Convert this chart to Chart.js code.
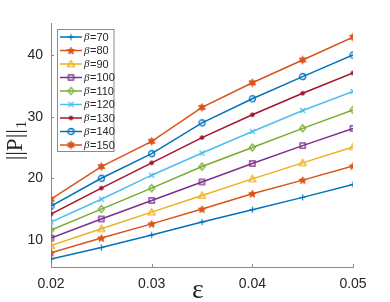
<!DOCTYPE html>
<html><head><meta charset="utf-8">
<script src="https://cdn.jsdelivr.net/npm/chart.js@4.4.1/dist/chart.umd.min.js"></script>
<style>html,body{margin:0;padding:0;background:#fff}#c{display:block}</style>
</head><body>
<div style="width:390px;height:302px"><canvas id="c" width="390" height="302"></canvas></div>
<script>
const eps = [0.02, 0.025, 0.03, 0.035, 0.04, 0.045, 0.05];
const betas = [70, 80, 90, 100, 110, 120, 130, 140, 150];
const b70  = [6.9, 8.75, 10.8, 12.9, 14.9, 16.9, 19.0];
const b80  = [7.9, 10.3, 12.6, 15.0, 17.5, 19.7, 22.0];
const b90  = [9.1, 11.8, 14.5, 17.2, 19.9, 22.5, 25.1];
const b100 = [10.3, 13.4, 16.4, 19.4, 22.4, 25.3, 28.1];
const b110 = [11.6, 15.0, 18.4, 21.9, 25.0, 28.1, 31.1];
const b120 = [12.9, 16.6, 20.5, 24.1, 27.6, 31.0, 34.1];
const b130 = [14.2, 18.4, 22.5, 26.6, 30.3, 33.8, 37.1];
const b140 = [15.5, 20.0, 24.0, 29.0, 32.9, 36.5, 40.0];
const b150 = [16.6, 21.9, 26.0, 31.5, 35.5, 39.2, 42.9];
const xTicks = [0.02, 0.03, 0.04, 0.05];
const yTicks = [10, 20, 30, 40];

const series = [b70, b80, b90, b100, b110, b120, b130, b140, b150];
const colors = ['#0072BD','#D95319','#EDB120','#7E2F8E','#77AC30','#4DBEEE','#A2142F','#0072BD','#D95319'];
const markers = ['plus','pentagram','triangle','square','diamond','x','dot','circle','hexagram'];

function starPath(ctx, cx, cy, n, ro, ri) {
  ctx.beginPath();
  for (let i = 0; i < 2 * n; i++) {
    const r = i % 2 === 0 ? ro : ri;
    const a = -Math.PI / 2 + i * Math.PI / n;
    const px = cx + r * Math.cos(a), py = cy + r * Math.sin(a);
    if (i === 0) ctx.moveTo(px, py); else ctx.lineTo(px, py);
  }
  ctx.closePath();
}
function makeMarker(type, color) {
  const s = 11, c = document.createElement('canvas');
  c.width = s; c.height = s;
  const ctx = c.getContext('2d');
  const m = s / 2;
  ctx.strokeStyle = color; ctx.fillStyle = color; ctx.lineWidth = 1;
  switch (type) {
    case 'plus':
      ctx.lineWidth = 1.2;
      ctx.beginPath(); ctx.moveTo(m - 3, m); ctx.lineTo(m + 3, m);
      ctx.moveTo(m, m - 3); ctx.lineTo(m, m + 3); ctx.stroke(); break;
    case 'pentagram':
      starPath(ctx, m, m + 0.4, 5, 3.9, 1.7); ctx.fill(); ctx.stroke(); break;
    case 'triangle':
      ctx.lineWidth = 1.3;
      ctx.beginPath(); ctx.moveTo(m, m - 3.4); ctx.lineTo(m + 3.4, m + 2.6); ctx.lineTo(m - 3.4, m + 2.6); ctx.closePath();
      ctx.stroke(); break;
    case 'square':
      ctx.lineWidth = 1.3; ctx.strokeRect(m - 2.6, m - 2.6, 5.2, 5.2); break;
    case 'diamond':
      ctx.lineWidth = 1.2;
      ctx.beginPath(); ctx.moveTo(m, m - 3.5); ctx.lineTo(m + 3, m); ctx.lineTo(m, m + 3.5); ctx.lineTo(m - 3, m); ctx.closePath();
      ctx.stroke(); break;
    case 'x':
      ctx.lineWidth = 1.1;
      ctx.beginPath(); ctx.moveTo(m - 2.5, m - 2.5); ctx.lineTo(m + 2.5, m + 2.5);
      ctx.moveTo(m + 2.5, m - 2.5); ctx.lineTo(m - 2.5, m + 2.5); ctx.stroke(); break;
    case 'dot':
      ctx.beginPath(); ctx.arc(m, m, 2.3, 0, Math.PI * 2); ctx.fill(); break;
    case 'circle':
      ctx.lineWidth = 1.3;
      ctx.beginPath(); ctx.arc(m, m, 3, 0, Math.PI * 2); ctx.stroke(); break;
    case 'hexagram':
      starPath(ctx, m, m, 6, 3.9, 2.1); ctx.fill(); ctx.stroke(); break;
  }
  return c;
}
const markerImgs = markers.map((t, i) => makeMarker(t, colors[i]));

const datasets = series.map((vals, i) => ({
  label: 'β=' + betas[i],
  data: eps.map((x, j) => ({ x: x, y: vals[j] })),
  borderColor: colors[i],
  backgroundColor: colors[i],
  borderWidth: 1.5,
  pointStyle: markerImgs[i],
  pointRadius: 4,
  tension: 0,
  order: series.length - i
}));

const axisColor = '#8a8a8a';
const tickColor = '#262626';

const decorPlugin = {
  id: 'decor',
  afterDraw(chart) {
    const ctx = chart.ctx, a = chart.chartArea;
    const xs = chart.scales.x, ys = chart.scales.y;
    ctx.save();
    ctx.strokeStyle = axisColor; ctx.lineWidth = 1;
    ctx.beginPath();
    xTicks.forEach(v => { const px = Math.round(xs.getPixelForValue(v)) + 0.5; ctx.moveTo(px, a.bottom); ctx.lineTo(px, a.bottom - 3); });
    yTicks.forEach(v => { const py = Math.round(ys.getPixelForValue(v)) + 0.5; ctx.moveTo(a.left, py); ctx.lineTo(a.left + 3, py); });
    ctx.stroke();
    ctx.translate(16, 141);
    ctx.rotate(-Math.PI / 2);
    ctx.fillStyle = tickColor;
    ctx.textBaseline = 'middle';
    ctx.textAlign = 'left';
    ctx.font = '23px "Liberation Serif", "Times New Roman", serif';
    const main = '||P||';
    const w = ctx.measureText(main).width;
    ctx.font = '15px "Liberation Serif", "Times New Roman", serif';
    const w1 = ctx.measureText('1').width;
    const start = -(w + w1) / 2;
    ctx.font = '23px "Liberation Serif", "Times New Roman", serif';
    ctx.fillText(main, start, 0);
    ctx.font = '15px "Liberation Serif", "Times New Roman", serif';
    ctx.fillText('1', start + w + 1, 6);
    ctx.restore();

    ctx.save();
    ctx.fillStyle = tickColor;
    ctx.font = '28px "Liberation Serif", "Times New Roman", serif';
    ctx.textAlign = 'center'; ctx.textBaseline = 'middle';
    ctx.fillText('ε', (a.left + a.right) / 2 - 4, 291);
    ctx.restore();

    ctx.save();
    const lx = 57.5, ly = 29.5, lw = 56.5, lh = 122;
    ctx.fillStyle = '#fff'; ctx.fillRect(lx, ly, lw, lh);
    ctx.strokeStyle = axisColor; ctx.lineWidth = 1; ctx.strokeRect(lx, ly, lw, lh);
    chart.data.datasets.forEach((ds, i) => {
      const y = 37 + i * 13.5;
      ctx.strokeStyle = ds.borderColor; ctx.lineWidth = 1.5;
      ctx.beginPath(); ctx.moveTo(60, y); ctx.lineTo(82, y); ctx.stroke();
      const img = markerImgs[i];
      ctx.drawImage(img, 71 - img.width / 2, y - img.height / 2);
      ctx.fillStyle = tickColor; ctx.textBaseline = 'middle'; ctx.textAlign = 'left';
      ctx.font = 'italic 11px "Liberation Serif", "Times New Roman", serif';
      ctx.fillText('β', 84, y + 0.5);
      const bw = ctx.measureText('β').width;
      ctx.font = '11px "Liberation Sans", Arial, sans-serif';
      ctx.fillText('=' + betas[i], 84 + bw + 0.5, y + 0.5);
    });
    ctx.restore();
  }
};

new Chart(document.getElementById('c'), {
  type: 'line',
  data: { datasets: datasets },
  options: {
    responsive: false,
    animation: false,
    devicePixelRatio: 1,
    layout: { padding: { top: 23, right: 37, left: 0, bottom: 0 } },
    plugins: { legend: { display: false }, tooltip: { enabled: false } },
    scales: {
      x: {
        type: 'linear', min: 0.02, max: 0.05,
        afterBuildTicks: s => { s.ticks = xTicks.map(v => ({ value: v })); },
        afterFit: s => { s.height = 35; },
        grid: { display: true, drawOnChartArea: false, drawTicks: false },
        border: { display: true, color: axisColor, width: 1 },
        ticks: { padding: 9, color: tickColor, font: { family: '"Liberation Sans", Arial, sans-serif', size: 14 }, maxRotation: 0,
                 callback: v => v.toFixed(2) }
      },
      y: {
        type: 'linear', min: 5.6, max: 45.2,
        afterBuildTicks: s => { s.ticks = yTicks.map(v => ({ value: v })); },
        afterFit: s => { s.width = 51; },
        grid: { display: true, drawOnChartArea: false, drawTicks: false },
        border: { display: true, color: axisColor, width: 1 },
        ticks: { padding: 8, color: tickColor, font: { family: '"Liberation Sans", Arial, sans-serif', size: 14 },
                 callback: v => String(v) }
      }
    }
  },
  plugins: [decorPlugin]
});
</script>
</body></html>
